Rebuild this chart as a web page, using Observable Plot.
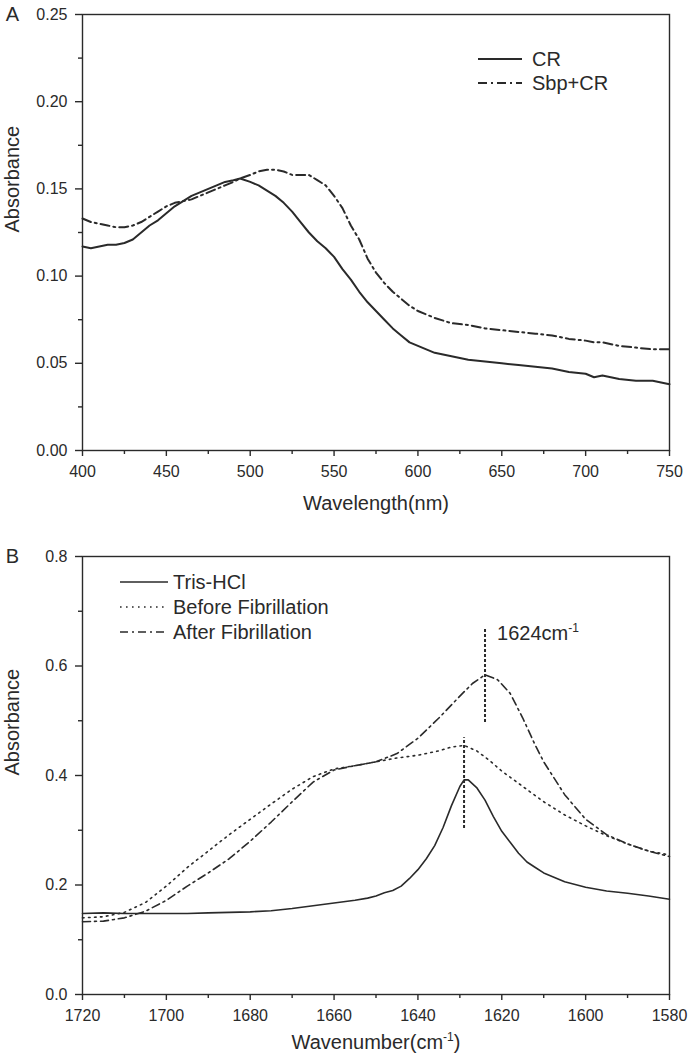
<!DOCTYPE html>
<html>
<head>
<meta charset="utf-8">
<script src="https://cdn.jsdelivr.net/npm/d3@7"></script>
<script src="https://cdn.jsdelivr.net/npm/@observablehq/plot@0.6"></script>
<style>
  html, body { margin: 0; padding: 0; background: #fff; }
  #chart svg { display: block; }
</style>
</head>
<body>
<div id="chart"></div>
<script>
// ---------- Panel A data ----------
const wavelengthA = [400, 405, 410, 415, 420, 425, 430, 435, 440, 445, 450, 455, 460, 465, 470, 475, 480, 485, 490, 494, 500, 505, 510, 515, 520, 525, 530, 535, 540, 545, 550, 555, 560, 565, 570, 575, 580, 585, 590, 595, 600, 605, 610, 620, 630, 640, 650, 660, 670, 680, 690, 700, 705, 710, 720, 730, 740, 745, 750];
const crAbs = [0.117, 0.116, 0.117, 0.118, 0.118, 0.119, 0.121, 0.125, 0.129, 0.132, 0.136, 0.140, 0.143, 0.146, 0.148, 0.150, 0.152, 0.154, 0.155, 0.156, 0.154, 0.152, 0.149, 0.146, 0.142, 0.137, 0.131, 0.125, 0.120, 0.116, 0.111, 0.104, 0.098, 0.091, 0.085, 0.080, 0.075, 0.070, 0.066, 0.062, 0.060, 0.058, 0.056, 0.054, 0.052, 0.051, 0.050, 0.049, 0.048, 0.047, 0.045, 0.044, 0.042, 0.043, 0.041, 0.040, 0.040, 0.039, 0.038];
const sbpCrAbs = [0.133, 0.131, 0.130, 0.129, 0.128, 0.128, 0.129, 0.131, 0.134, 0.137, 0.140, 0.142, 0.143, 0.144, 0.146, 0.148, 0.150, 0.152, 0.154, 0.156, 0.158, 0.160, 0.161, 0.161, 0.160, 0.158, 0.158, 0.158, 0.155, 0.152, 0.146, 0.139, 0.129, 0.121, 0.110, 0.102, 0.096, 0.091, 0.087, 0.083, 0.080, 0.078, 0.076, 0.073, 0.072, 0.070, 0.069, 0.068, 0.067, 0.066, 0.064, 0.063, 0.062, 0.062, 0.060, 0.059, 0.058, 0.058, 0.058];
const seriesA = ["CR", "Sbp+CR"];
const xTicksA = [400, 450, 500, 550, 600, 650, 700, 750];
const xMinorA = [425, 475, 525, 575, 625, 675, 725];
const yTicksA = [0, 0.05, 0.10, 0.15, 0.20, 0.25];
const yMinorA = [0.025, 0.075, 0.125, 0.175, 0.225];

// ---------- Panel B data ----------
const wavenumberTris = [1720, 1715, 1710, 1705, 1700, 1695, 1690, 1685, 1680, 1675, 1670, 1665, 1660, 1655, 1652, 1650, 1648, 1646, 1644, 1642, 1640, 1638, 1636, 1634, 1632, 1630, 1629, 1628, 1626, 1624, 1622, 1620, 1618, 1616, 1614, 1612, 1610, 1605, 1600, 1595, 1590, 1585, 1580];
const trisAbs = [0.148, 0.149, 0.148, 0.148, 0.148, 0.148, 0.149, 0.150, 0.151, 0.153, 0.157, 0.162, 0.167, 0.172, 0.176, 0.180, 0.186, 0.190, 0.198, 0.212, 0.228, 0.248, 0.272, 0.305, 0.345, 0.380, 0.392, 0.392, 0.378, 0.355, 0.325, 0.298, 0.278, 0.258, 0.242, 0.232, 0.222, 0.206, 0.196, 0.189, 0.185, 0.180, 0.174];
const wavenumberBefore = [1720, 1715, 1710, 1705, 1700, 1695, 1690, 1685, 1680, 1675, 1670, 1665, 1660, 1655, 1650, 1645, 1640, 1635, 1632, 1629, 1626, 1623, 1620, 1615, 1610, 1605, 1600, 1595, 1590, 1585, 1580];
const beforeAbs = [0.140, 0.142, 0.150, 0.168, 0.198, 0.232, 0.262, 0.292, 0.320, 0.348, 0.375, 0.398, 0.412, 0.418, 0.425, 0.432, 0.437, 0.445, 0.452, 0.455, 0.445, 0.428, 0.408, 0.380, 0.352, 0.328, 0.308, 0.290, 0.275, 0.262, 0.255];
const wavenumberAfter = [1720, 1715, 1710, 1705, 1700, 1695, 1690, 1685, 1680, 1675, 1670, 1665, 1660, 1655, 1650, 1645, 1640, 1635, 1630, 1627, 1624, 1621, 1618, 1615, 1612, 1610, 1605, 1600, 1595, 1590, 1585, 1580];
const afterAbs = [0.133, 0.134, 0.140, 0.152, 0.172, 0.198, 0.222, 0.248, 0.280, 0.315, 0.352, 0.388, 0.410, 0.418, 0.425, 0.440, 0.468, 0.505, 0.545, 0.568, 0.584, 0.575, 0.550, 0.505, 0.455, 0.425, 0.365, 0.320, 0.292, 0.275, 0.262, 0.252];
const seriesB = ["Tris-HCl", "Before Fibrillation", "After Fibrillation"];
const xTicksB = [1720, 1700, 1680, 1660, 1640, 1620, 1600, 1580];
const xMinorB = [1710, 1690, 1670, 1650, 1630, 1610, 1590];
const yTicksB = [0, 0.2, 0.4, 0.6, 0.8];
const yMinorB = [0.1, 0.3, 0.5, 0.7];

// marker lines: wavenumber, lower and upper absorbance
const markerX = [1624, 1629];
const markerY1 = [0.497, 0.303];
const markerY2 = [0.670, 0.469];
const annotX = [1624];
const annotY = [0.66];
const annotLabel = ["1624cm-1"];

// ---------- styling ----------
const FONT = "'Liberation Sans', Arial, Helvetica, sans-serif";
const INK = "#2a2a2a";
const dashA = {"CR": null, "Sbp+CR": "9,4,2,4"};
const dashB = {"Tris-HCl": null, "Before Fibrillation": "1.6,4.4", "After Fibrillation": "8,4,2,4"};

const tableA = [];
seriesA.forEach((s, i) => {
  const vals = i === 0 ? crAbs : sbpCrAbs;
  wavelengthA.forEach((w, j) => tableA.push({series: s, x: w, y: vals[j]}));
});
const tableB = [];
[[wavenumberTris, trisAbs], [wavenumberBefore, beforeAbs], [wavenumberAfter, afterAbs]].forEach(([xs, ys], i) => {
  xs.forEach((x, j) => tableB.push({series: seriesB[i], x, y: ys[j]}));
});
const markers = markerX.map((x, i) => ({x, y1: markerY1[i], y2: markerY2[i]}));
const annots = annotX.map((x, i) => ({x, y: annotY[i], label: annotLabel[i]}));

function axes(xT, xM, yT, yM, yFmt) {
  return [
    Plot.frame({stroke: INK, strokeWidth: 1.4}),
    Plot.axisX({ticks: xT, tickSize: 6, tickPadding: 9, label: null, stroke: INK, strokeWidth: 1.4, fontSize: 16, fill: INK, tickFormat: d => String(d)}),
    Plot.axisX({ticks: xM, tickSize: 4, label: null, stroke: INK, strokeWidth: 1.4, tickFormat: () => ""}),
    Plot.axisY({ticks: yT, tickSize: 7, tickPadding: 8, label: null, stroke: INK, strokeWidth: 1.4, fontSize: 16, fill: INK, tickFormat: yFmt}),
    Plot.axisY({ticks: yM, tickSize: 4, label: null, stroke: INK, strokeWidth: 1.4, tickFormat: () => ""})
  ];
}

function titles(letter, xTitle, dyX) {
  return [
    Plot.text([xTitle], {frameAnchor: "bottom", dy: dyX, fontSize: 20, fill: INK, text: d => d, lineAnchor: "middle"}),
    Plot.text(["Absorbance"], {frameAnchor: "left", dx: -70, rotate: -90, fontSize: 20, fill: INK, text: d => d}),
    Plot.text([letter], {frameAnchor: "top-left", dx: -70, dy: 0, fontSize: 20, fill: INK, text: d => d, textAnchor: "middle", lineAnchor: "middle"})
  ];
}

const plotA = Plot.plot({
  width: 688, height: 530,
  marginTop: 14, marginBottom: 80, marginLeft: 82, marginRight: 19,
  style: {fontFamily: FONT, fontSize: "16px", color: INK, background: "#fff"},
  x: {domain: [400, 750]},
  y: {domain: [0, 0.25]},
  marks: [
    ...axes(xTicksA, xMinorA, yTicksA, yMinorA, d3.format(".2f")),
    ...seriesA.map(s => Plot.line(tableA.filter(d => d.series === s), {x: "x", y: "y", stroke: INK, strokeWidth: 2, strokeDasharray: dashA[s], curve: "linear"})),
    ...titles("A", "Wavelength(nm)", 53)
  ]
});

const plotB = Plot.plot({
  width: 688, height: 534,
  marginTop: 26, marginBottom: 70, marginLeft: 82, marginRight: 19,
  style: {fontFamily: FONT, fontSize: "16px", color: INK, background: "#fff"},
  x: {domain: [1720, 1580]},
  y: {domain: [0, 0.8]},
  marks: [
    ...axes(xTicksB, xMinorB, yTicksB, yMinorB, d3.format(".1f")),
    ...seriesB.map(s => Plot.line(tableB.filter(d => d.series === s), {x: "x", y: "y", stroke: INK, strokeWidth: 1.6, strokeDasharray: dashB[s], curve: "linear"})),
    Plot.ruleX(markers, {x: "x", y1: "y1", y2: "y2", stroke: INK, strokeWidth: 2, strokeDasharray: "3,2"}),
    Plot.text(annots, {x: "x", y: "y", text: "label", dx: 12, textAnchor: "start", fontSize: 20, fill: INK}),
    ...titles("B", "Wavenumber(cm-1)", 48)
  ]
});

// legends drawn inside the plot frames
function addLegend(svg, labels, dashes, widths, x0, x1, tx, y0, step) {
  const g = d3.select(svg).append("g")
    .attr("font-family", FONT).attr("font-size", 20).attr("fill", INK)
    .attr("text-anchor", "start");
  labels.forEach((lab, i) => {
    const y = y0 + i * step;
    g.append("line").attr("x1", x0).attr("x2", x1).attr("y1", y).attr("y2", y)
      .attr("stroke", INK).attr("stroke-width", widths)
      .attr("stroke-dasharray", dashes[lab]);
    g.append("text").attr("x", tx).attr("y", y).attr("dy", "0.35em")
      .attr("text-anchor", "start").text(lab);
  });
}
addLegend(plotA, seriesA, dashA, 2, 478, 522, 532, 59, 24);
addLegend(plotB, seriesB, dashB, 1.6, 120, 168, 173, 52, 25);

// superscripts for cm-1
function superscript(svg) {
  d3.select(svg).selectAll("text").each(function () {
    const t = this.textContent;
    const m = t.match(/^(.*cm)-1(\)?)$/);
    if (!m) return;
    const sel = d3.select(this);
    sel.text("");
    sel.append("tspan").text(m[1]);
    sel.append("tspan").attr("dy", -8).attr("font-size", 12).text("-1");
    if (m[2]) sel.append("tspan").attr("dy", 8).text(m[2]);
  });
}
superscript(plotB);

document.getElementById("chart").append(plotA, plotB);
</script>
</body>
</html>
